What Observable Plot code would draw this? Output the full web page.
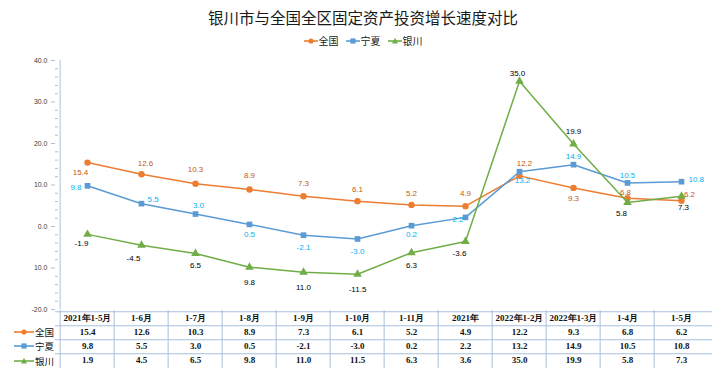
<!DOCTYPE html>
<html><head><meta charset="utf-8">
<script src="https://cdn.jsdelivr.net/npm/d3@7"></script>
<script src="https://cdn.jsdelivr.net/npm/@observablehq/plot@0.6"></script>
<style>
body{margin:0;background:#fff;width:726px;height:376px;overflow:hidden;position:relative;font-family:"Liberation Sans",Arial,sans-serif;}
#title{position:absolute;top:6px;left:0;width:726px;text-align:center;font-size:15.5px;font-family:"Noto Sans CJK SC";color:#1a1a1a;line-height:22px;}
#legend{position:absolute;top:34px;left:0;width:726px;display:flex;justify-content:center;gap:7px;font-size:10px;font-family:"Noto Sans CJK SC";color:#222;line-height:14px;}
#legend span{display:flex;align-items:center;gap:1px}
#chart{position:absolute;top:52px;left:0}
#table{position:absolute;top:310px;left:0}
.rh{position:absolute;left:14px;display:flex;align-items:center;gap:1px;font-size:9.5px;font-family:"Noto Sans CJK SC";color:#111;height:14.5px}
</style></head>
<body>
<div id="title"></div>
<div id="legend"></div>
<div id="chart"></div>
<div id="table"></div>
<div id="rowhdr"></div>
<script>
const titleText = "银川市与全国全区固定资产投资增长速度对比";
const categories = ["2021年1-5月","1-6月","1-7月","1-8月","1-9月","1-10月","1-11月","2021年","2022年1-2月","2022年1-3月","1-4月","1-5月"];
const seriesNames = ["全国","宁夏","银川"];
const quanguo = [15.4,12.6,10.3,8.9,7.3,6.1,5.2,4.9,12.2,9.3,6.8,6.2];
const ningxia = [9.8,5.5,3.0,0.5,-2.1,-3.0,0.2,2.2,13.2,14.9,10.5,10.8];
const yinchuan = [-1.9,-4.5,-6.5,-9.8,-11.0,-11.5,-6.3,-3.6,35.0,19.9,5.8,7.3];
const yinchuanLabels = ["-1.9","-4.5","6.5","9.8","11.0","-11.5","6.3","-3.6","35.0","19.9","5.8","7.3"];
const yTicks = [-20,-10,0,10,20,30,40];
const yTickLabels = ["-20.0","10.0","0.0","10.0","20.0","30.0","40.0"];

// styles / label placement (kept separate from data)
const colors = ["#ED7D31","#5B9BD5","#70AD47"];
const labelColors = ["#C65911","#00B0F0","#000000"];
const symbols = ["circle","square","triangle"];
const labelDx = [
  [-7,4,0,0,0,0,0,0,5,0,-2,8],
  [-6,6,3,0,0,0,0,-2,3,0,0,7],
  [-6,-8,0,0,0,0,0,-6,-2,0,-6,2]
];
const labelDy = [
  [10,-11,-14,-14,-13,-12,-11,-13,-12,11,-6,-6],
  [2,-4,-9,10,12,12,9,2,9,-8,-7,-2],
  [9,13,12,15,15,15,13,12,-8,-12,11,11]
];
const labelAnchor = [
  ["middle","middle","middle","middle","middle","middle","middle","middle","middle","middle","middle","middle"],
  ["end","start","middle","middle","middle","middle","middle","end","middle","middle","middle","start"],
  ["middle","middle","middle","middle","middle","middle","middle","middle","middle","middle","middle","middle"]
];

const seriesValues = [quanguo, ningxia, yinchuan];
const seriesLabels = [
  quanguo.map(v => v.toFixed(1)),
  ningxia.map(v => v.toFixed(1)),
  yinchuanLabels
];

document.getElementById("title").textContent = titleText;

function keySvg(k, w) {
  const c = colors[k];
  let m;
  if (symbols[k] === "circle") m = `<circle cx="${w/2}" cy="5" r="2.6" fill="${c}"/>`;
  else if (symbols[k] === "square") m = `<rect x="${w/2-2.6}" y="2.4" width="5.2" height="5.2" fill="${c}"/>`;
  else m = `<path d="M${w/2},1.8L${w/2+3},7.4L${w/2-3},7.4Z" fill="${c}"/>`;
  return `<svg width="${w}" height="10"><line x1="0" x2="${w}" y1="5" y2="5" stroke="${c}" stroke-width="1.6"/>${m}</svg>`;
}
document.getElementById("legend").innerHTML = seriesNames.map((n,k)=>`<span>${keySvg(k,14)}${n}</span>`).join("");

const points = [];
seriesNames.forEach((s,k) => categories.forEach((c,i) => points.push({
  series: s, k, cat: c, v: seriesValues[k][i], label: seriesLabels[k][i],
  dx: labelDx[k][i], dy: labelDy[k][i], anchor: labelAnchor[k][i]
})));

const W = 726, ML = 55, MR = 14;
const step = (W - ML - MR) / categories.length;
const minor = d3.range(-20, 41, 2).filter(d => d % 10 !== 0);
const axisColor = "#a9c0dc";

const marks = [
  Plot.ruleX([categories[0]], {x: d => d, dx: -step/2, stroke: axisColor, strokeWidth: 1}),
  Plot.tickY(minor, {y: d => d, stroke: axisColor, insetRight: W - ML - MR - 3}),
  Plot.axisY(yTicks, {tickSize: 4, stroke: axisColor, tickPadding: 4, fontSize: 7, fill: "#404040", label: null,
    tickFormat: (d) => yTickLabels[yTicks.indexOf(d)], fontFamily: "Liberation Sans"})
];
seriesNames.forEach((s,k) => {
  const data = points.filter(p => p.k === k);
  marks.push(Plot.line(data, {x: "cat", y: "v", stroke: colors[k], strokeWidth: 1.5}));
  marks.push(Plot.dot(data, {x: "cat", y: "v", fill: colors[k], symbol: symbols[k], r: 3.2, stroke: "none"}));
});
points.forEach(p => {
  marks.push(Plot.text([p], {x: "cat", y: "v", text: "label", dx: p.dx, dy: p.dy, textAnchor: p.anchor,
    fill: labelColors[p.k], fontSize: 8, fontFamily: "Liberation Sans"}));
});

const chart = Plot.plot({
  width: W, height: 260,
  marginLeft: ML, marginRight: MR, marginTop: 8, marginBottom: 3,
  x: {type: "point", domain: categories, padding: 0.5, axis: null},
  y: {domain: [-20, 40], axis: null, label: null},
  style: {background: "transparent"},
  marks
});
document.getElementById("chart").appendChild(chart);

// data table below the chart
const rows = ["hdr", ...seriesNames];
const cells = [];
rows.forEach((r, ri) => categories.forEach((c, i) => cells.push({
  r, c,
  t: ri === 0 ? c : (ri === 3 ? Math.abs(seriesValues[2][i]).toFixed(1) : seriesValues[ri-1][i].toFixed(1))
})));
const TH = 58;
const rowH = TH / rows.length;
const table = Plot.plot({
  width: W, height: TH,
  marginLeft: ML, marginRight: MR, marginTop: 0, marginBottom: 0,
  x: {type: "point", domain: categories, padding: 0.5, axis: null},
  y: {type: "point", domain: rows, padding: 0.5, axis: null},
  style: {background: "transparent"},
  marks: [
    // vertical borders at the left edge of each column
    Plot.ruleX(categories, {x: d => d, dx: -step/2, stroke: axisColor, strokeWidth: 1}),
    // horizontal borders at the top of each row
    Plot.ruleY(rows, {y: d => d, dy: -rowH/2 + 0.5, stroke: axisColor, strokeWidth: 1}),
    Plot.text(cells, {x: "c", y: "r", text: "t", fontSize: 9, fontWeight: "bold",
      fontFamily: "Liberation Serif", fill: "#111"})
  ]
});
document.getElementById("table").appendChild(table);

document.getElementById("rowhdr").innerHTML = seriesNames.map((n,k) =>
  `<div class="rh" style="top:${310 + rowH*(k+1)}px">${keySvg(k,20)}${n}</div>`).join("");
</script>
</body></html>
